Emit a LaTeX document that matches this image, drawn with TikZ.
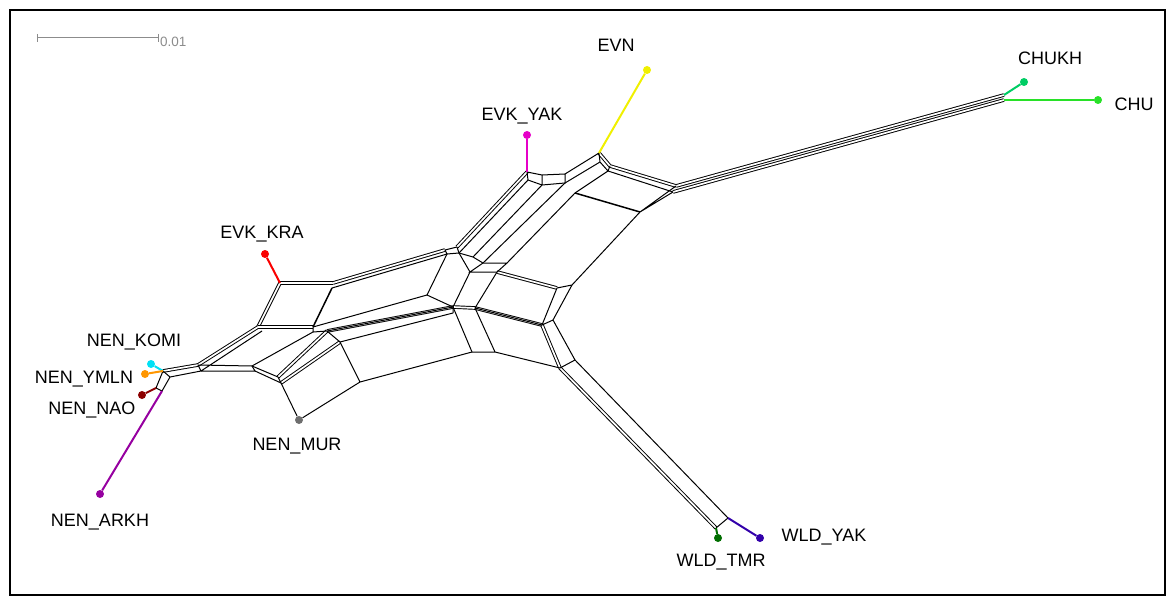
\documentclass[tikz,border=0pt]{standalone}
\usepackage{fontspec}
\setmainfont{Liberation Sans}

\definecolor{cevn}{RGB}{240,240,0}
\definecolor{cyak}{RGB}{230,0,200}
\definecolor{ckra}{RGB}{250,0,0}
\definecolor{cchukh}{RGB}{0,205,100}
\definecolor{cchu}{RGB}{40,225,40}
\definecolor{cwyak}{RGB}{50,0,170}
\definecolor{ctmr}{RGB}{0,110,0}
\definecolor{ckomi}{RGB}{0,225,245}
\definecolor{cymln}{RGB}{255,150,0}
\definecolor{cnao}{RGB}{140,0,0}
\definecolor{carkh}{RGB}{150,0,160}
\definecolor{cmur}{RGB}{110,110,110}
\definecolor{cbar}{RGB}{140,140,140}

\begin{document}
\begin{tikzpicture}[x=1pt,y=-1pt,
  split/.style={line width=1pt},
  band/.style={line width=0.95pt,double,double distance=1.7pt},
  leaf/.style={circle,fill,minimum size=8pt,inner sep=0},
  taxon/.style={font=\fontsize{18}{20}\selectfont,inner sep=0},
  twig/.style={line width=2pt}]
  \useasboundingbox (0,0) rectangle (1166,596);
  \draw[line width=1.8pt] (10,10) rectangle (1165,595);

  % scale bar
  \coordinate (sb1) at (37,38);
  \coordinate (sb2) at (158,38);
  \draw[cbar,line width=1pt] (sb1) -- (sb2) ([yshift=4pt]sb1) -- ([yshift=-4pt]sb1) ([yshift=4pt]sb2) -- ([yshift=-4pt]sb2);
  \node[cbar,font=\fontsize{13.5}{15}\selectfont,anchor=west,inner sep=1pt] (sblbl) at (159,42) {0.01};

  % split points
  \coordinate (h1) at (163,371);  \coordinate (h2) at (170,377);
  \coordinate (h3) at (156,388);  \coordinate (h4) at (162,391);
  \coordinate (a1) at (198,365);  \coordinate (a2) at (201,371);
  \coordinate (b1) at (258,327);  \coordinate (b2) at (262,331);
  \coordinate (c1) at (280,283);  \coordinate (d1) at (333,283);
  \coordinate (d2) at (332,288);
  \coordinate (e1) at (313,327);  \coordinate (e2) at (313,332);
  \coordinate (f1) at (252,366);  \coordinate (f2) at (255,371);
  \coordinate (g1) at (278,377);  \coordinate (g2) at (281,383);
  \coordinate (k1) at (327,331);  \coordinate (k2) at (340,342);
  \coordinate (l1) at (360,382);
  \coordinate (u0) at (445,250);  \coordinate (u1) at (447,254);
  \coordinate (u2) at (457,247);  \coordinate (u3) at (459,253);
  \coordinate (u4) at (473,257);
  \coordinate (t1) at (470,272);  \coordinate (t2) at (497,272);
  \coordinate (t3) at (483,263);  \coordinate (t4) at (507,263);
  \coordinate (p1) at (427,295);  \coordinate (p2) at (453,307);
  \coordinate (p3) at (475,308);  \coordinate (p4) at (453,313);
  \coordinate (q1) at (472,352);  \coordinate (q2) at (495,352);
  \coordinate (r1) at (542,325);  \coordinate (r2) at (553,320);
  \coordinate (r3) at (560,368);  \coordinate (r4) at (575,360);
  \coordinate (s1) at (557,288);  \coordinate (s2) at (572,285);
  \coordinate (y1) at (527,172);  \coordinate (y2) at (542,175);
  \coordinate (y3) at (565,174);  \coordinate (y4) at (528,180);
  \coordinate (y5) at (542,185);  \coordinate (y6) at (565,183);
  \coordinate (v1) at (599,153);  \coordinate (v2) at (600,162);
  \coordinate (v3) at (610,166);  \coordinate (v4) at (608,171);
  \coordinate (w1) at (676,186);  \coordinate (w2) at (673,192);
  \coordinate (w3) at (640,212);  \coordinate (w4) at (575,193);
  \coordinate (x1) at (1004,95);  \coordinate (x2) at (1004,100);
  \coordinate (z1) at (716,528);  \coordinate (z2) at (728,518);

  % taxa
  \node[leaf,fill=cevn,label={[taxon,shift={(-31pt,25pt)}]center:EVN}] (evn) at (647,70) {};
  \node[leaf,fill=cyak,label={[taxon,shift={(-5pt,19pt)}]center:EVK\_YAK}] (evkyak) at (527,135) {};
  \node[leaf,fill=ckra,label={[taxon,shift={(-3pt,20pt)}]center:EVK\_KRA}] (evkkra) at (265,254) {};
  \node[leaf,fill=cchukh,label={[taxon,shift={(26pt,24pt)}]center:CHUKH}] (chukh) at (1024,82) {};
  \node[leaf,fill=cchu,label={[taxon,shift={(36pt,-4pt)}]center:CHU}] (chu) at (1098,100) {};
  \node[leaf,fill=cwyak,label={[taxon,shift={(64pt,1pt)}]center:WLD\_YAK}] (wldyak) at (760,538) {};
  \node[leaf,fill=ctmr,label={[taxon,shift={(3pt,-24pt)}]center:WLD\_TMR}] (wldtmr) at (718,538) {};
  \node[leaf,fill=ckomi,label={[taxon,shift={(-17pt,22pt)}]center:NEN\_KOMI}] (nenkomi) at (151,364) {};
  \node[leaf,fill=cymln,label={[taxon,shift={(-61pt,-5pt)}]center:NEN\_YMLN}] (nenymln) at (145,374) {};
  \node[leaf,fill=cnao,label={[taxon,shift={(-50pt,-15pt)}]center:NEN\_NAO}] (nennao) at (142,395) {};
  \node[leaf,fill=carkh,label={[taxon,shift={(0pt,-28pt)}]center:NEN\_ARKH}] (nenarkh) at (100,494) {};
  \node[leaf,fill=cmur,label={[taxon,shift={(-2pt,-26pt)}]center:NEN\_MUR}] (nenmur) at (299,420) {};

  % parallel bands
  \draw[band] (h1) -- (a1);
  \draw[band] (a1) -- (b1);
  \draw[band] (b1) -- (c1) -- (d1);
  \draw[band] (b1) -- (e1);
  \draw[band] (d1) -- (u0);
  \draw[band] (g1) -- (k1);
  \draw[band] (g2) -- (k2);
  \draw[band] (k1) -- (p2);
  \draw[band] (p2) -- (p3);
  \draw[band] (p3) -- (r1);
  \draw[band] (u2) -- (y1);
  \draw[band] (t2) -- (s1);
  \draw[band] (r1) -- (r3);
  \draw[band] (r3) -- (z1);
  \draw[band] (w1) -- (x1);
  \draw[band] (w2) -- (x2);
  \draw[band] (v1) -- (v3) -- (w1);

  % single splits
  \draw[split] (h1) -- (h2) -- (h4) -- (h3) -- (h1) (h2) -- (a2) -- (a1);
  \draw[split] (a2) -- (b2) (a1) -- (f1) (a2) -- (f2) -- (f1);
  \draw[split] (f1) -- (g1) (f2) -- (g2) -- (g1) (f1) -- (e2) -- (e1);
  \draw[split] (e2) -- (k1) -- (k2) (k1) -- (p2) (k2) -- (p4) (e1) -- (p1);
  \draw[split,line width=1.5pt] (e1) -- (d2);
  \draw[split] (d2) -- (u1) -- (u0) -- (u2);
  \draw[split] (k2) -- (l1) -- (q1) (l1) -- (nenmur) (g2) -- (nenmur);
  \draw[split] (u1) -- (p1) -- (p2) -- (p4) (u1) -- (u3) -- (t1);
  \draw[split] (u2) -- (u3) -- (u4) -- (t3) -- (t4) -- (t2) -- (t1) -- (t3);
  \draw[split] (t1) -- (p2) (t2) -- (p3) (p3) -- (r1);
  \draw[split] (u3) -- (y4) (u4) -- (y5) (t3) -- (y6) (t4) -- (w4);
  \draw[split] (y1) -- (y2) -- (y3) -- (y6) -- (y5) -- (y4) -- (y1) (y2) -- (y5);
  \draw[split] (y3) -- (v1) -- (v2) -- (y6) (v2) -- (v4) -- (w2) (v3) -- (v4) -- (w4);
  \draw[split,line width=1.5pt] (w4) -- (w3);
  \draw[split] (w3) -- (w1) (w3) -- (w2) (w3) -- (s2) -- (s1);
  \draw[split] (s1) -- (r1) -- (r2) -- (s2) (r2) -- (r4) -- (r3);
  \draw[split] (p2) -- (q1) -- (q2) -- (p3) (q2) -- (r3);
  \draw[split] (r4) -- (z2) -- (z1);

  % pendant edges
  \draw[twig,cevn] (evn) -- (v1);
  \draw[twig,cyak] (evkyak) -- (y1);
  \draw[twig,ckra] (evkkra) -- (c1);
  \draw[twig,cchukh] (chukh) -- (x1);
  \draw[twig,cchu] (chu) -- (x2);
  \draw[twig,cwyak] (wldyak) -- (z2);
  \draw[twig,ctmr] (wldtmr) -- (z1);
  \draw[twig,ckomi] (nenkomi) -- (h1);
  \draw[twig,cymln] (nenymln) -- (h1);
  \draw[twig,cnao] (nennao) -- (h3);
  \draw[twig,carkh] (nenarkh) -- (h4);
\end{tikzpicture}
\end{document}
